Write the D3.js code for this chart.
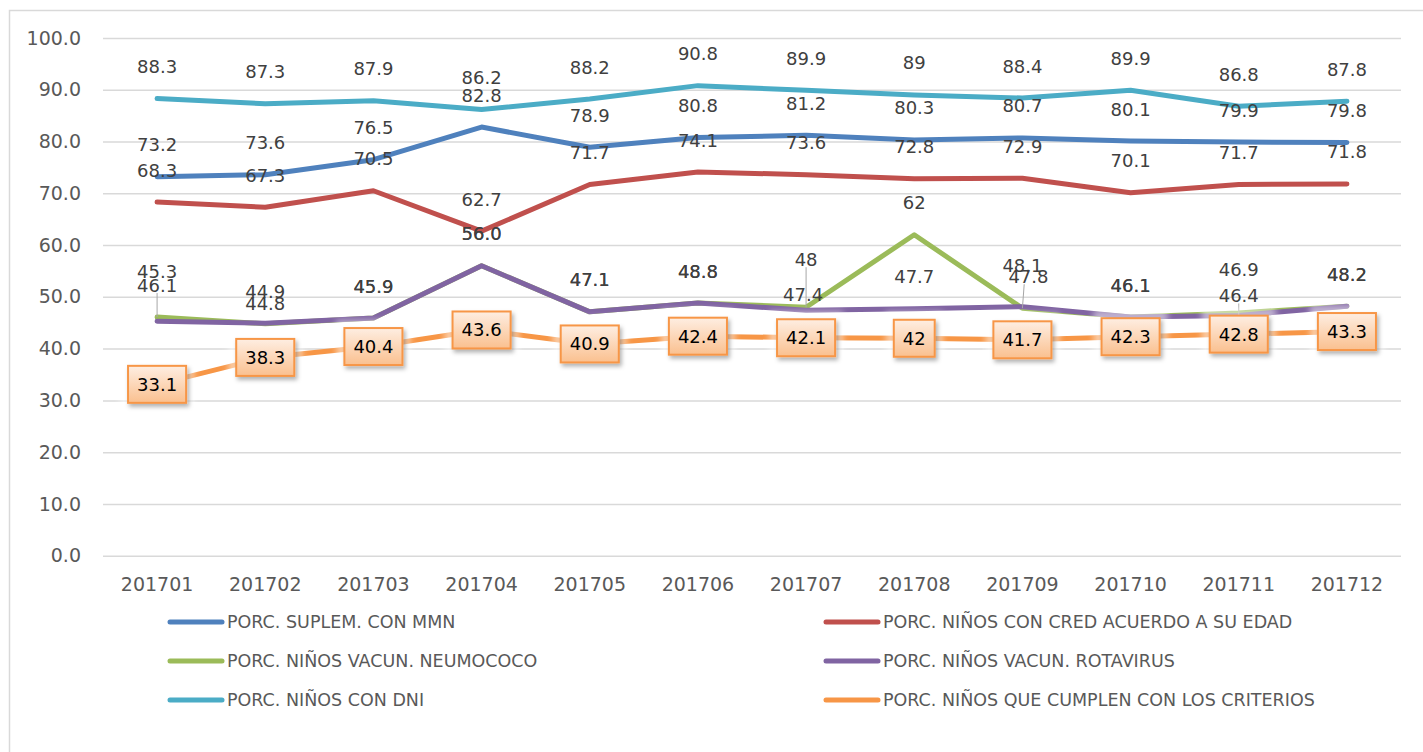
<!DOCTYPE html>
<html>
<head>
<meta charset="utf-8">
<script src="https://cdn.jsdelivr.net/npm/d3@7"></script>
<style>
  html, body { margin: 0; padding: 0; background: #fff; }
  svg { display: block; font-family: "DejaVu Sans", sans-serif; }
</style>
</head>
<body>
<svg id="chart" width="1423" height="752"></svg>
<script>
// data
const months = ['201701', '201702', '201703', '201704', '201705', '201706',
  '201707', '201708', '201709', '201710', '201711', '201712'];

const mmn = [73.2, 73.6, 76.5, 82.8, 78.9, 80.8, 81.2, 80.3, 80.7, 80.1, 79.9, 79.8];
const cred = [68.3, 67.3, 70.5, 62.7, 71.7, 74.1, 73.6, 72.8, 72.9, 70.1, 71.7, 71.8];
const neumo = [46.1, 44.8, 45.9, 56.0, 47.1, 48.8, 48, 62, 47.8, 46.1, 46.9, 48.2];
const rota = [45.3, 44.9, 45.9, 56.0, 47.1, 48.8, 47.4, 47.7, 48.1, 46.1, 46.4, 48.2];
const dni = [88.3, 87.3, 87.9, 86.2, 88.2, 90.8, 89.9, 89, 88.4, 89.9, 86.8, 87.8];
const criterios = [33.1, 38.3, 40.4, 43.6, 40.9, 42.4, 42.1, 42, 41.7, 42.3, 42.8, 43.3];

// the neumococo labels are printed as typed in the sheet
const neumoText = ['46.1', '44.8', '45.9', '56.0', '47.1', '48.8', '48', '62', '47.8', '46.1', '46.9', '48.2'];

const yTicks = [0, 10, 20, 30, 40, 50, 60, 70, 80, 90, 100];

const labelNames = {
  mmn: 'PORC. SUPLEM. CON MMN',
  cred: 'PORC. NIÑOS CON CRED ACUERDO A SU EDAD',
  neumo: 'PORC. NIÑOS VACUN. NEUMOCOCO',
  rota: 'PORC. NIÑOS VACUN. ROTAVIRUS',
  dni: 'PORC. NIÑOS CON DNI',
  criterios: 'PORC. NIÑOS QUE CUMPLEN CON LOS CRITERIOS'
};

const raw = (v) => String(v);
const oneDec = d3.format('.1f');

const series = [
  { key: 'mmn', values: mmn, color: '#4F81BD', fmt: raw },
  { key: 'cred', values: cred, color: '#C0504D', fmt: raw },
  { key: 'neumo', values: neumo, color: '#9BBB59', fmt: (v, i) => neumoText[i] },
  { key: 'rota', values: rota, color: '#8064A2', fmt: oneDec },
  { key: 'dni', values: dni, color: '#4BACC6', fmt: raw },
  { key: 'criterios', values: criterios, color: '#F79646', fmt: raw, boxed: true }
];

// hand-moved labels in the original (dx, dy from the default spot)
const labelNudge = {
  neumo: { 1: [0, 12], 6: [0, -16], 8: [6, 0], 10: [0, -11] },
  rota: { 0: [0, -18], 6: [-3, 16], 8: [0, -9], 10: [0, 12] }
};
const leaders = [['neumo', 0], ['neumo', 6], ['neumo', 8], ['rota', 10]];

const svg = d3.select('#chart');

const defs = svg.append('defs');
const grad = defs.append('linearGradient')
  .attr('id', 'boxFill').attr('x1', 0).attr('y1', 0).attr('x2', 0).attr('y2', 1);
grad.append('stop').attr('offset', '0%').attr('stop-color', '#FEEEE2');
grad.append('stop').attr('offset', '100%').attr('stop-color', '#FAC08F');

const shadow = defs.append('filter').attr('id', 'shadow')
  .attr('x', '-30%').attr('y', '-30%').attr('width', '160%').attr('height', '170%');
shadow.append('feDropShadow').attr('dx', 2).attr('dy', 3)
  .attr('stdDeviation', 2).attr('flood-color', '#000').attr('flood-opacity', 0.3);

const glow = defs.append('filter').attr('id', 'glow')
  .attr('x', '-40%').attr('y', '-60%').attr('width', '180%').attr('height', '220%');
glow.append('feGaussianBlur').attr('stdDeviation', 3);

// outer chart border (right and bottom edges fall outside the picture)
svg.append('rect')
  .attr('x', 9.5).attr('y', 10.5).attr('width', 1500).attr('height', 900)
  .attr('fill', 'none').attr('stroke', '#D9D9D9').attr('stroke-width', 1.5);

const xScale = d3.scaleBand()
  .domain(months)
  .range([103, 1401]);

const yScale = d3.scaleLinear()
  .domain([0, 100])
  .range([555.7, 38]);

const xPos = (i) => xScale(months[i]) + xScale.bandwidth() / 2;

// grid lines
svg.append('g')
  .attr('transform', 'translate(103, 0)')
  .call(d3.axisLeft(yScale).tickValues(yTicks).tickSize(-1298).tickFormat(''))
  .call((g) => g.select('.domain').remove())
  .selectAll('line')
  .attr('stroke', '#D9D9D9')
  .attr('stroke-width', 1.5);

// y tick labels
svg.append('g')
  .attr('transform', 'translate(81, 0)')
  .call(d3.axisLeft(yScale).tickValues(yTicks).tickSize(0).tickPadding(0).tickFormat(d3.format('.1f')))
  .call((g) => g.select('.domain').remove())
  .selectAll('text')
  .attr('font-family', '"DejaVu Sans", sans-serif')
  .attr('font-size', 19)
  .attr('fill', '#595959');

// x tick labels
svg.append('g')
  .attr('transform', 'translate(0, 577)')
  .call(d3.axisBottom(xScale).tickSize(0).tickPadding(0))
  .call((g) => g.select('.domain').remove())
  .selectAll('text')
  .attr('font-family', '"DejaVu Sans", sans-serif')
  .attr('font-size', 19)
  .attr('fill', '#595959');

const line = d3.line()
  .x((d, i) => xPos(i))
  .y((d) => yScale(d));

const lines = svg.append('g');
series.forEach((s) => {
  lines.append('path')
    .datum(s.values)
    .attr('d', line)
    .attr('fill', 'none')
    .attr('stroke', s.color)
    .attr('stroke-width', 5)
    .attr('stroke-linejoin', 'round')
    .attr('stroke-linecap', 'round');
});

// plain value labels
const labels = svg.append('g')
  .attr('font-size', 18)
  .attr('fill', '#404040')
  .attr('text-anchor', 'middle');

const labelSpot = (s, i) => {
  const n = (labelNudge[s.key] || {})[i] || [0, 0];
  return [xPos(i) + n[0], yScale(s.values[i]) - 32 + n[1]];
};

leaders.forEach(([key, i]) => {
  const s = series.find((d) => d.key === key);
  const [lx, ly] = labelSpot(s, i);
  labels.append('line')
    .attr('x1', xPos(i) + (lx - xPos(i)) * 0.3).attr('y1', ly + 8)
    .attr('x2', xPos(i)).attr('y2', yScale(s.values[i]))
    .attr('stroke', '#A6A6A6').attr('stroke-width', 1);
});

series.filter((s) => !s.boxed).forEach((s) => {
  s.values.forEach((v, i) => {
    const [lx, ly] = labelSpot(s, i);
    labels.append('text')
      .attr('x', lx)
      .attr('y', ly)
      .attr('dy', '0.36em')
      .text(s.fmt(v, i));
  });
});

// boxed labels for the criterios series
series.filter((s) => s.boxed).forEach((s) => {
  const boxes = svg.append('g');
  s.values.forEach((v, i) => {
    const cx = xPos(i);
    const cy = yScale(v);
    const g = boxes.append('g');
    const t = g.append('text')
      .attr('x', cx)
      .attr('y', cy)
      .attr('dy', '0.36em')
      .attr('text-anchor', 'middle')
      .attr('font-size', 18)
      .attr('fill', '#000')
      .text(s.fmt(v, i));
    const w = t.node().getComputedTextLength() + 18;
    const h = 37;
    g.insert('rect', 'text')
      .attr('x', cx - w / 2 - 8).attr('y', cy - h / 2 - 8)
      .attr('width', w + 16).attr('height', h + 16)
      .attr('fill', '#fff').attr('opacity', 0.5)
      .attr('filter', 'url(#glow)');
    g.insert('rect', 'text')
      .attr('x', cx - w / 2).attr('y', cy - h / 2)
      .attr('width', w).attr('height', h)
      .attr('fill', 'url(#boxFill)')
      .attr('stroke', s.color)
      .attr('stroke-width', 2)
      .attr('filter', 'url(#shadow)');
  });
});

// legend, two columns
const legendCols = [168, 824];
const legendRows = [622, 661, 700];
const legend = svg.append('g');
series.forEach((s, i) => {
  const x = legendCols[i % 2];
  const y = legendRows[Math.floor(i / 2)];
  legend.append('line')
    .attr('x1', x + 2).attr('x2', x + 54)
    .attr('y1', y).attr('y2', y)
    .attr('stroke', s.color)
    .attr('stroke-width', 5)
    .attr('stroke-linecap', 'round');
  legend.append('text')
    .attr('x', x + 59)
    .attr('y', y)
    .attr('dy', '0.36em')
    .attr('font-size', 17.5)
    .attr('fill', '#595959')
    .text(labelNames[s.key]);
});
</script>
</body>
</html>
